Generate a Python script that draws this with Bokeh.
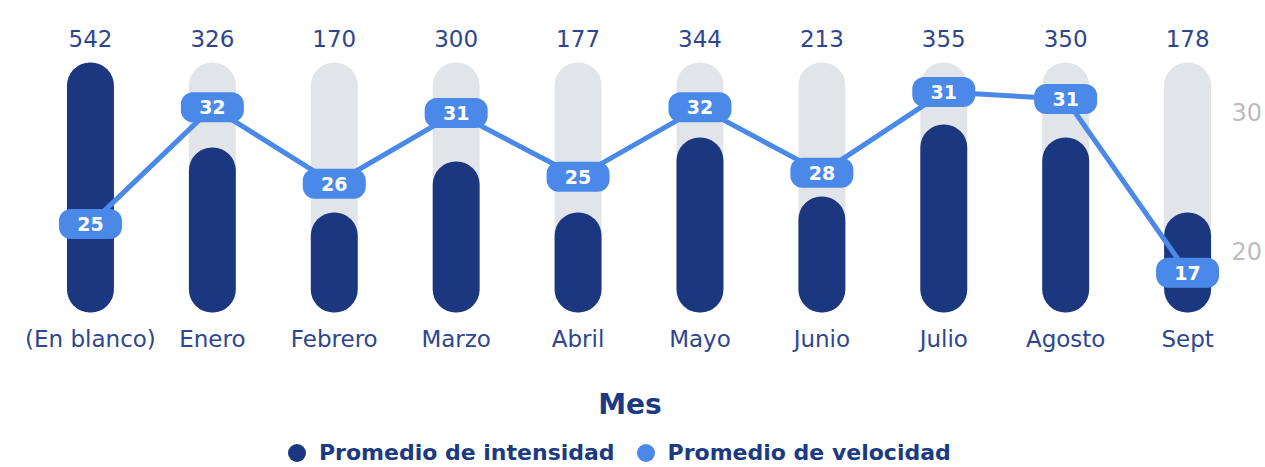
import numpy as np
from bokeh.plotting import figure
from bokeh.layouts import column
from bokeh.models import Range1d, LinearAxis, FixedTicker, ColumnDataSource, Legend, LegendItem
from bokeh.core.properties import value
from bokeh.embed import file_html
from bokeh.resources import INLINE

# ---- data ----
months = ["(En blanco)", "Enero", "Febrero", "Marzo", "Abril", "Mayo",
          "Junio", "Julio", "Agosto", "Sept"]
count_labels = [542, 326, 170, 300, 177, 344, 213, 355, 350, 178]
intensity = [100, 66, 40, 60.4, 40, 70, 46.4, 75.2, 70, 40]
intensity_track = [100, 100, 100, 100, 100, 100, 100, 100, 100, 100]
velocity = [21.9, 30.3, 24.8, 29.9, 25.3, 30.3, 25.6, 31.4, 30.9, 18.4]
velocity_labels = ["25", "32", "26", "31", "25", "32", "28", "31", "31", "17"]
vel_ticks = [20, 30]
series_names = ["Promedio de intensidad", "Promedio de velocidad"]

DARK = "#1a377f"
LIGHT = "#4a89e8"
TRACK = "#e1e4e8"
TXT = "#2e468e"
FONT = "DejaVu Sans"

xs = list(range(len(months)))
src = ColumnDataSource(dict(
    x=xs, month=months, cnt=[str(c) for c in count_labels],
    inten=intensity, track=intensity_track,
    vel=velocity, vlab=velocity_labels,
))

p = figure(width=1265, height=437,
           x_range=Range1d(-0.5, 9.352), y_range=Range1d(-3.2, 116.8),
           x_axis_location=None, y_axis_location=None,
           output_backend="svg", toolbar_location=None,
           min_border_left=29, min_border_top=20, min_border_right=31,
           min_border_bottom=117,
           outline_line_color=None, background_fill_color="white")
p.grid.visible = False
p.extra_y_ranges = {"vel": Range1d(14.964, 36.547)}

# bars
p.vbar(x="x", top="track", bottom=0, width=0.385, source=src,
       fill_color=TRACK, line_color=None, border_radius=23)
p.vbar(x="x", top="inten", bottom=0, width=0.385, source=src,
       fill_color=DARK, line_color=None, border_radius=23)

# top labels
p.text(x="x", y=109.6, text="cnt", source=src, text_align="center",
       text_baseline="middle", text_font=value(FONT),
       text_font_size="23px", text_color=TXT)

# line
p.line(x="x", y="vel", source=src, y_range_name="vel",
       line_color=LIGHT, line_width=5)
p.rect(x="x", y="vel", width=63, height=30, width_units="screen",
       height_units="screen", source=src, y_range_name="vel",
       fill_color=LIGHT, line_color=None, border_radius=12)
p.text(x="x", y="vel", text="vlab", source=src, y_range_name="vel",
       text_align="center", text_baseline="middle",
       text_font=value(FONT), text_font_style="bold",
       text_font_size="19px", text_color="white")

# right axis
ra = LinearAxis(y_range_name="vel", ticker=FixedTicker(ticks=vel_ticks),
                axis_line_color=None, major_tick_line_color=None,
                minor_tick_line_color=None, major_label_standoff=1,
                major_tick_out=0, major_tick_in=0,
                major_label_text_font=FONT,
                major_label_text_font_size="24px",
                major_label_text_color="#bdbdbd")
p.add_layout(ra, "right")

# bottom axis
xa = LinearAxis(ticker=FixedTicker(ticks=xs),
                major_label_overrides={i: m for i, m in zip(xs, months)},
                axis_line_color=None, major_tick_line_color=None,
                minor_tick_line_color=None, major_tick_out=0, major_tick_in=0,
                major_label_standoff=5,
                major_label_text_font=FONT,
                major_label_text_font_size="23px",
                major_label_text_color=TXT,
                axis_label="Mes", axis_label_standoff=33,
                axis_label_text_font=FONT,
                axis_label_text_font_style="bold",
                axis_label_text_font_size="28px",
                axis_label_text_color="#1b3a82")
p.add_layout(xa, "below")

# legend strip
lg = figure(width=1265, height=30, x_range=Range1d(0, 1), y_range=Range1d(0, 1),
            x_axis_location=None, y_axis_location=None,
            output_backend="svg", toolbar_location=None,
            min_border=0, outline_line_color=None)
lg.grid.visible = False
r1 = lg.scatter(x=[0.5], y=np.array([np.nan]), marker="circle", size=18,
                fill_color=DARK, line_color=None)
r2 = lg.scatter(x=[0.5], y=np.array([np.nan]), marker="circle", size=18,
                fill_color=LIGHT, line_color=None)
leg = Legend(items=[LegendItem(label=series_names[0], renderers=[r1]),
                    LegendItem(label=series_names[1], renderers=[r2])],
             orientation="horizontal", location=(245, -8),
             glyph_width=45, glyph_height=45, label_standoff=0, spacing=8,
             padding=0, margin=0, border_line_color=None,
             background_fill_alpha=0,
             label_text_font=FONT, label_text_font_style="bold",
             label_text_font_size="22px", label_text_color="#1b3a82")
lg.add_layout(leg, "center")

open("out.html", "w").write(file_html(column(p, lg, spacing=0), INLINE))
